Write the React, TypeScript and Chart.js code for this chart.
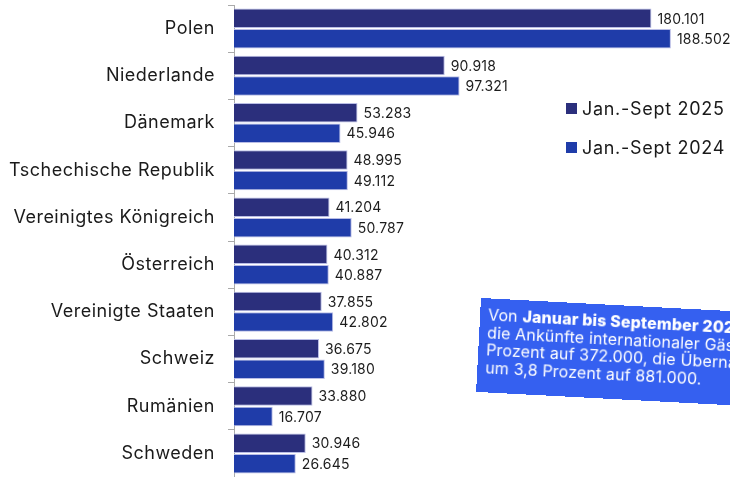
import React, { useEffect, useRef } from "react";
import { Chart, registerables } from "chart.js";

Chart.register(...registerables);

const categories = [
  "Polen",
  "Niederlande",
  "Dänemark",
  "Tschechische Republik",
  "Vereinigtes Königreich",
  "Österreich",
  "Vereinigte Staaten",
  "Schweiz",
  "Rumänien",
  "Schweden",
];
const series2025 = [180101, 90918, 53283, 48995, 41204, 40312, 37855, 36675, 33880, 30946];
const series2024 = [188502, 97321, 45946, 49112, 50787, 40887, 42802, 39180, 16707, 26645];
const seriesLabels = ["Jan.-Sept 2025", "Jan.-Sept 2024"];
const colors = ["#2b2f7c", "#1f3ca9"];
const FONT = "Inter, 'Noto Sans', sans-serif";

function fmt(n: number): string {
  const s = String(Math.round(n));
  return s.replace(/\B(?=(\d{3})+(?!\d))/g, ".");
}

const spacing = {
  id: "spacing",
  beforeDraw(chart: any) {
    chart.ctx.save();
    chart.ctx.letterSpacing = "0.5px";
  },
  afterDraw(chart: any) {
    chart.ctx.restore();
  },
};

const valueLabels = {
  id: "valueLabels",
  afterDatasetsDraw(chart: any) {
    const ctx = chart.ctx;
    ctx.save();
    ctx.letterSpacing = "0.2px";
    ctx.font = `400 14px ${FONT}`;
    ctx.fillStyle = "#1c1c1c";
    ctx.textAlign = "left";
    ctx.textBaseline = "middle";
    chart.data.datasets.forEach((ds: any, di: number) => {
      const meta = chart.getDatasetMeta(di);
      meta.data.forEach((bar: any, i: number) => {
        ctx.fillText(fmt(ds.data[i]), bar.x + 6, bar.y + 1);
      });
    });
    ctx.restore();
  },
};

export default function App() {
  const ref = useRef<HTMLCanvasElement | null>(null);
  useEffect(() => {
    document.body.style.margin = "0";
    const chart = new Chart(ref.current!, {
      type: "bar",
      data: {
        labels: categories,
        datasets: [
          {
            label: seriesLabels[0],
            data: series2025,
            backgroundColor: colors[0],
            borderColor: "#b9bde6",
            borderWidth: 1,
            categoryPercentage: 0.87,
            barPercentage: 0.95,
          },
          {
            label: seriesLabels[1],
            data: series2024,
            backgroundColor: colors[1],
            borderColor: "#b9bde6",
            borderWidth: 1,
            categoryPercentage: 0.87,
            barPercentage: 0.95,
          },
        ],
      },
      options: {
        indexAxis: "y",
        responsive: false,
        animation: false,
        layout: { padding: { top: 5, bottom: 0, left: 0, right: 0 } },
        plugins: { legend: { display: false }, tooltip: { enabled: false } },
        scales: {
          x: { display: false, min: 0, max: 214000 },
          y: {
            afterFit: (scale: any) => {
              scale.width = 234;
              scale.paddingTop = 0;
              scale.paddingBottom = 0;
            },
            grid: {
              drawOnChartArea: false,
              tickLength: 6,
              color: "#aaaaaa",
              offset: true,
            },
            border: { display: true, color: "#aaaaaa" },
            ticks: {
              color: "#1a1a1a",
              padding: 13,
              font: { family: FONT, size: 18 },
            },
          },
        },
      },
      plugins: [spacing, valueLabels],
    });
    return () => chart.destroy();
  }, []);

  return (
    <div
      style={{
        position: "fixed",
        left: 0,
        top: 0,
        width: 730,
        height: 477,
        overflow: "hidden",
        background: "#fff",
        fontFamily: FONT,
      }}
    >
      <canvas ref={ref} width={730} height={477} />
      {seriesLabels.map((l, i) => (
        <div
          key={l}
          style={{
            position: "absolute",
            left: 566,
            top: 98 + i * 39,
            display: "flex",
            alignItems: "center",
            fontSize: 18,
            letterSpacing: "0.7px",
            color: "#1a1a1a",
            whiteSpace: "nowrap",
          }}
        >
          <span
            style={{
              display: "inline-block",
              width: 11,
              height: 11,
              background: colors[i],
              marginRight: 5,
            }}
          />
          {l}
        </div>
      ))}
      <div
        style={{
          position: "absolute",
          left: 481,
          top: 298,
          width: 340,
          height: 94,
          background: "#3560f0",
          color: "#fff",
          fontSize: 16,
          lineHeight: "17.5px",
          letterSpacing: "0.15px",
          padding: "8px 8px",
          boxSizing: "border-box",
          transform: "rotate(3deg)",
          transformOrigin: "0 0",
          whiteSpace: "nowrap",
        }}
      >
        Von <b style={{ fontWeight: 800 }}>Januar bis September 2025</b> stiegen
        <br />
        die Ankünfte internationaler Gäste
        <br />
        Prozent auf 372.000, die Übernachtungen
        <br />
        um 3,8 Prozent auf 881.000.
      </div>
    </div>
  );
}
